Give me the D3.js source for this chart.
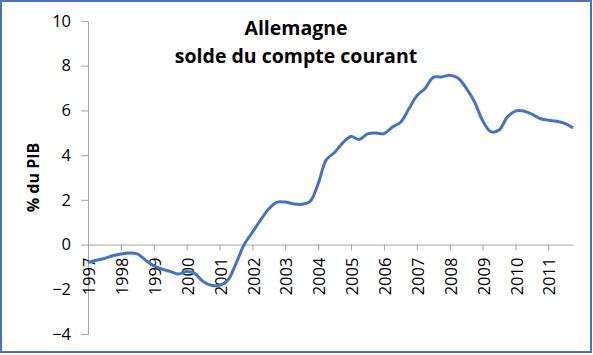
<!DOCTYPE html>
<html>
<head>
<meta charset="utf-8">
<script src="https://cdn.jsdelivr.net/npm/d3@7"></script>
<style>
  body { margin: 0; background: #fff; }
  svg text { font-family: "Open Sans", sans-serif; fill: #000; }
</style>
</head>
<body>
<div id="chart"></div>
<script>
// Années affichées sur l'axe (une étiquette tous les 4 trimestres)
const years = ["1997", "1998", "1999", "2000", "2001", "2002", "2003", "2004",
               "2005", "2006", "2007", "2008", "2009", "2010", "2011"];
// Trimestres 1997T1 .. 2011T4
const quarters = years.flatMap(y => ["T1", "T2", "T3", "T4"].map(q => y + q));
// Solde du compte courant, % du PIB
const solde = [
  -0.80, -0.70, -0.62, -0.50, -0.42, -0.38, -0.42, -0.70,
  -0.95, -1.10, -1.20, -1.32, -1.20, -1.30, -1.65, -1.82,
  -1.82, -1.60, -0.85,  0.00,  0.55,  1.10,  1.60,  1.90,
   1.90,  1.82,  1.80,  1.92,  2.72,  3.80,  4.12,  4.55,
   4.83,  4.70,  4.95,  4.99,  4.96,  5.25,  5.46,  6.05,
   6.65,  6.98,  7.48,  7.50,  7.57,  7.45,  7.00,  6.40,
   5.55,  5.05,  5.12,  5.70,  5.97,  5.97,  5.83,  5.64,
   5.56,  5.52,  5.42,  5.22
];
const yTicks = [-4, -2, 0, 2, 4, 6, 8, 10];

const width = 593, height = 355;
const margin = { top: 21, right: 20, bottom: 21, left: 88 };

let svg = d3.select("#chart")
    .append("svg")
    .attr("width", width)
    .attr("height", height);

// cadre
svg.append("rect")
    .attr("x", 1).attr("y", 1)
    .attr("width", 590).attr("height", 351)
    .attr("fill", "none")
    .attr("stroke", "#4a72c0")
    .attr("stroke-width", 2);

let x = d3.scaleLinear()
    .domain([0, quarters.length - 1])
    .range([margin.left, 573]);
let y = d3.scaleLinear()
    .domain([-4, 10])
    .range([height - margin.bottom, margin.top]);

// axe vertical
let yAxis = svg.append("g")
    .attr("transform", `translate(${margin.left},0)`)
    .call(d3.axisLeft(y).tickValues(yTicks).tickSize(7).tickPadding(10).tickFormat(d3.format("d")));
yAxis.selectAll("line, path").attr("stroke", "#a6a6a6");
yAxis.selectAll("text").style("font-size", "16.5px").style("font-family", "Open Sans, sans-serif").attr("fill", "#000");

// axe horizontal à y = 0
let xAxis = svg.append("g")
    .attr("transform", `translate(0,${y(0)})`)
    .call(d3.axisBottom(x)
        .tickValues(years.map((d, i) => i * 4))
        .tickFormat((d, i) => years[i])
        .tickSize(6).tickSizeOuter(0));
xAxis.select("path").attr("stroke", "#a6a6a6");
xAxis.selectAll("line").attr("stroke", "#a6a6a6");
xAxis.selectAll("text")
    .style("font-size", "16.5px")
    .style("font-family", "Open Sans, sans-serif")
    .attr("fill", "#000")
    .attr("text-anchor", "end")
    .attr("transform", "rotate(-90)")
    .attr("x", -13)
    .attr("y", 0)
    .attr("dy", "0.4em");

// courbe
let line = d3.line()
    .x((d, i) => x(i))
    .y(d => y(d))
    .curve(d3.curveCatmullRom);
svg.append("path")
    .datum(solde)
    .attr("fill", "none")
    .attr("stroke", "#4472c4")
    .attr("stroke-width", 3)
    .attr("stroke-linejoin", "round")
    .attr("d", line);

// titre
let title = svg.append("text")
    .attr("text-anchor", "middle")
    .style("font-size", "19.5px")
    .style("font-weight", "bold");
title.append("tspan").attr("x", 296).attr("y", 35).text("Allemagne");
title.append("tspan").attr("x", 296).attr("y", 63).text("solde du compte courant");

// titre de l'axe
svg.append("text")
    .attr("transform", `translate(39,${(y(10) + y(-4)) / 2}) rotate(-90)`)
    .attr("text-anchor", "middle")
    .style("font-size", "16px")
    .style("font-weight", "bold")
    .text("% du PIB");
</script>
</body>
</html>
